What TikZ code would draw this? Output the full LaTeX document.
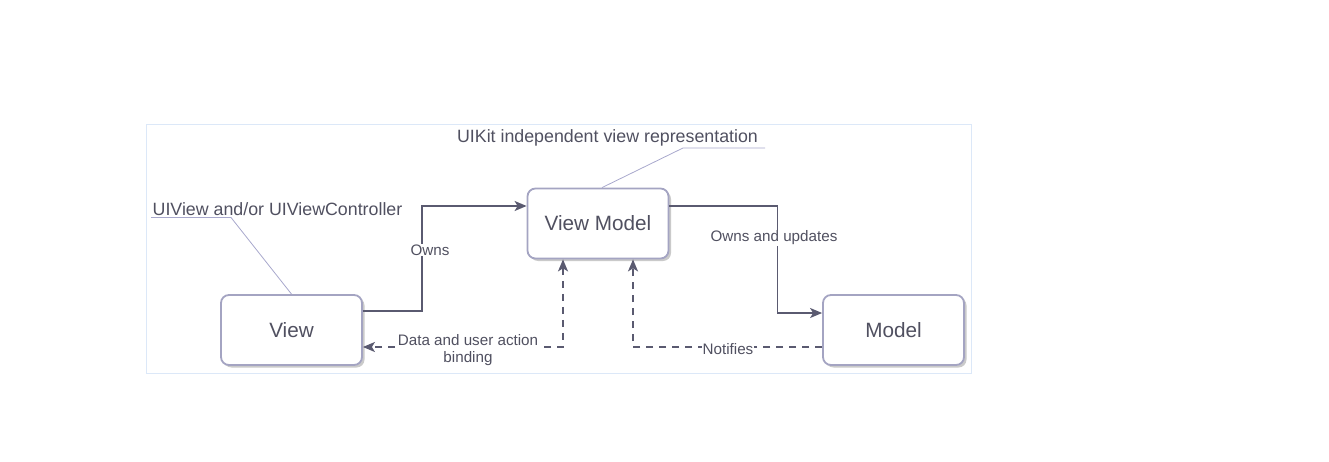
\documentclass[tikz,border=0pt]{standalone}
\usepackage{fontspec}
\setmainfont{Liberation Sans}
\usetikzlibrary{shadows,arrows.meta}
\definecolor{txt}{HTML}{505060}
\definecolor{conn}{HTML}{5A5A70}
\definecolor{boxc}{HTML}{A4A4C2}
\definecolor{callc}{HTML}{A8A8CC}
\definecolor{framec}{HTML}{DCE8F8}
\tikzset{
  box/.style={draw=boxc, line width=1.8pt, rounded corners=8pt, fill=white,
    minimum width=141pt, minimum height=70pt, inner sep=0pt, text=txt,
    font=\fontsize{20.7}{24}\selectfont,
    drop shadow={shadow xshift=2.5pt, shadow yshift=-2.5pt, fill=black!35, opacity=0.6}},
  connline/.style={draw=conn, line width=1.6pt, -{Stealth[length=12pt,width=10pt,inset=3pt]}},
  dashline/.style={connline, dash pattern=on 7pt off 6pt},
  lbl/.style={fill=white, text=txt, inner sep=1pt, font=\fontsize{15.2}{17}\selectfont, align=center},
  calltxt/.style={text=txt, inner sep=0pt, font=\fontsize{17.8}{20}\selectfont},
  callline/.style={draw=callc, line width=0.8pt}
}
\begin{document}
\begin{tikzpicture}[x=1pt,y=-1pt]
\useasboundingbox (0,0) rectangle (1329,462);
\draw[framec, line width=0.8pt] (146,124) rectangle (971,373);

\node[box] (view) at (291.5,330) {View};
\node[box] (vm) at (598,223.5) {View Model};
\node[box] (model) at (893.5,330) {Model};

\node[calltxt] (c1) at (277.5,209) {UIView and/or UIViewController};
\node[calltxt] (c2) at (607.5,137.5) {UIKit independent view representation};
\coordinate (c1b) at (231,217.5);
\coordinate (c2b) at (683,148);
\draw[callline] (151,217.5) -- (c1b) -- (view.north);
\draw[callline] (765,148) -- (c2b) -- ([xshift=4pt]vm.north);

\draw[connline] ([yshift=19pt]view.east) -- ++(59,0) |- ([yshift=17.5pt]vm.west);
\draw[connline] ([yshift=17.5pt]vm.east) -- ++(108,0) |- ([yshift=17pt]model.west);
\draw[dashline, {Stealth[length=12pt,width=10pt,inset=3pt]}-{Stealth[length=12pt,width=10pt,inset=3pt]}] ([xshift=-35pt]vm.south) |- ([yshift=-17pt]view.east);
\draw[dashline] ([yshift=-17pt]model.west) -| ([xshift=35pt]vm.south);

\node[lbl] (l1) at (430,250) {Owns};
\node[lbl] (l2) at (774,238) {Owns and updates};
\node[lbl] (l3) at (468,350) {Data and user action\\binding};
\node[lbl] (l4) at (728,349) {Notifies};
\end{tikzpicture}
\end{document}
